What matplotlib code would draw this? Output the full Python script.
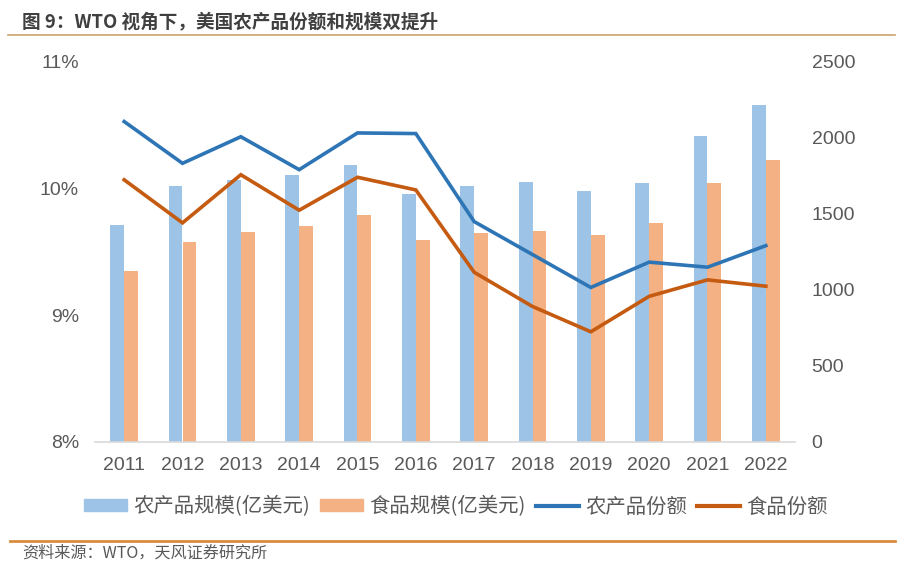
import matplotlib
matplotlib.use("Agg")
import matplotlib.pyplot as plt
import numpy as np
from matplotlib.ticker import FuncFormatter
from matplotlib.lines import Line2D
from matplotlib.patches import Patch

plt.rcParams['font.family'] = ['Noto Sans CJK SC', 'DejaVu Sans']

years = ['2011', '2012', '2013', '2014', '2015', '2016', '2017', '2018', '2019', '2020', '2021', '2022']
agri_scale = [1428, 1682, 1724, 1757, 1822, 1632, 1684, 1713, 1649, 1704, 2015, 2219]
food_scale = [1125, 1314, 1384, 1421, 1493, 1331, 1377, 1388, 1360, 1439, 1704, 1853]
agri_share = [10.53, 10.20, 10.41, 10.15, 10.44, 10.435, 9.74, 9.48, 9.22, 9.42, 9.38, 9.55]
food_share = [10.07, 9.73, 10.11, 9.83, 10.09, 9.99, 9.34, 9.07, 8.87, 9.15, 9.28, 9.23]

c_agri_bar = '#9dc3e6'
c_food_bar = '#f4b183'
c_agri_line = '#2e75b6'
c_food_line = '#c55a11'
tick_col = '#595959'

W, H = 907, 569
fig = plt.figure(figsize=(W/100, H/100), dpi=100)
ax = fig.add_axes([95/W, 1-442/H, 700/W, 380/H])
ax2 = ax.twinx()

x = np.arange(len(years))
bw = 0.235
ax2.bar(x - bw/2, agri_scale, width=bw, color=c_agri_bar, label='农产品规模(亿美元)')
ax2.bar(x + bw/2, food_scale, width=bw, color=c_food_bar, label='食品规模(亿美元)')
ax2.set_ylim(0, 2500)
ax2.set_yticks([0, 500, 1000, 1500, 2000, 2500])

ax.plot(x, agri_share, color=c_agri_line, lw=2.6, solid_joinstyle='miter')
ax.plot(x, food_share, color=c_food_line, lw=2.6, solid_joinstyle='miter')
ax.set_ylim(8, 11)
ax.set_yticks([8, 9, 10, 11])
ax.yaxis.set_major_formatter(FuncFormatter(lambda v, p: f'{int(round(v))}%'))
ax.set_xlim(-0.5, 11.5)
ax.set_xticks(x)
ax.set_xticklabels(years)

ax.set_zorder(ax2.get_zorder() + 1)
ax.patch.set_visible(False)

for a in (ax, ax2):
    for s in a.spines.values():
        s.set_visible(False)
    a.tick_params(length=0, colors=tick_col)
ax.spines['bottom'].set_visible(True)
ax.spines['bottom'].set_color('#d9d9d9')
ax.spines['bottom'].set_linewidth(1.2)
ax.tick_params(axis='y', pad=11.5)
ax.tick_params(axis='x', pad=11)
ax2.tick_params(axis='y', pad=12)
for t in ax.get_yticklabels() + ax.get_xticklabels() + ax2.get_yticklabels():
    t.set_family(['Liberation Sans', 'DejaVu Sans'])
    t.set_fontsize(14)

handles = [Patch(color=c_agri_bar), Patch(color=c_food_bar),
           Line2D([0], [0], color=c_agri_line, lw=3),
           Line2D([0], [0], color=c_food_line, lw=3)]
labels = ['农产品规模(亿美元)', '食品规模(亿美元)', '农产品份额', '食品份额']
leg = fig.legend(handles, labels, loc='center', bbox_to_anchor=(456/W, 1-507/H), ncol=4,
                 frameon=False, fontsize=14.7, handlelength=2.1, handleheight=0.5,
                 handletextpad=0.3, columnspacing=0.5, labelcolor=tick_col)

fig.text(22/W, 1-22/H, '图 9：WTO 视角下，美国农产品份额和规模双提升', fontsize=13.4,
         fontweight='bold', color='#404040', va='center', ha='left')
fig.add_artist(Line2D([8/W, 895/W], [1-35/H, 1-35/H], color='#c9a36e', lw=1.2))
fig.add_artist(Line2D([10/W, 895/W], [1-541/H, 1-541/H], color='#d98c3e', lw=2.0))
fig.text(22/W, 1-553/H, '资料来源：WTO，天风证券研究所', fontsize=11.6,
         color='#595959', va='center', ha='left')

fig.savefig('out.png', dpi=100)
